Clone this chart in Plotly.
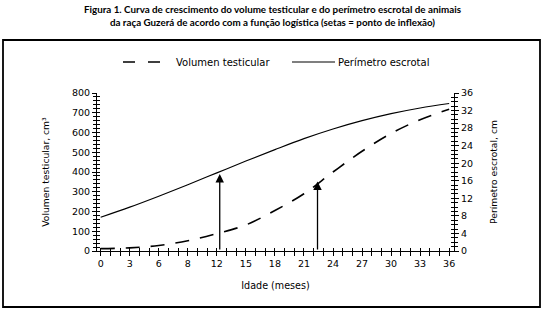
import plotly.graph_objects as go

meses = [0, 3, 6, 9, 12, 15, 18, 21, 24, 27, 30, 33, 36]
volumen = [12, 16, 28, 52, 88, 132, 205, 290, 400, 505, 595, 665, 718]
perimetro = [7.7, 10.0, 12.5, 15.1, 17.8, 20.5, 23.1, 25.6, 27.8, 29.7, 31.3, 32.6, 33.6]

x_tickvals = [0, 3, 6, 9, 12, 15, 18, 21, 24, 27, 30, 33, 36]
x_ticktext = ["0", "3", "6", "8", "12", "15", "18", "21", "24", "27", "30", "33", "36"]
inflexao_x = [12.3, 22.4]
inflexao_y = [390, 352]

series_names = ["Volumen testicular", "Perímetro escrotal"]

titulo = ("<b>Figura 1. Curva de crescimento do volume testicular e do perímetro escrotal de animais<br>"
          "da raça Guzerá de acordo com a função logística (setas = ponto de inflexão)</b>")

# plot area in pixels: left 97, right 454, top 93, bottom 251
L, R, T, B = 97, 454, 93, 251
def px(xp):
    return (xp - L) / (R - L)
def py(yp):
    return (B - yp) / (B - T)

XR = [-0.38, 36.5]
Y1R = [0, 800]
Y2R = [0, 36]

fig = go.Figure()
fig.add_trace(go.Scatter(x=meses, y=volumen, mode="lines", name=series_names[0],
                         line=dict(color="black", width=1.6, dash="14px,11px", shape="spline"),
                         yaxis="y", showlegend=False))
fig.add_trace(go.Scatter(x=meses, y=perimetro, mode="lines", name=series_names[1],
                         line=dict(color="black", width=1.1, shape="spline"),
                         yaxis="y2", showlegend=False))
# invisible helpers so the inside-tick overlay axes are drawn (crossing ticks)
fig.add_trace(go.Scatter(x=[None], y=[None], xaxis="x2", yaxis="y3", showlegend=False,
                         hoverinfo="skip"))
fig.add_trace(go.Scatter(x=[None], y=[None], xaxis="x2", yaxis="y4", showlegend=False,
                         hoverinfo="skip"))

for xa, ya in zip(inflexao_x, inflexao_y):
    fig.add_annotation(x=xa, y=ya, ax=xa, ay=0, xref="x", yref="y", axref="x", ayref="y",
                       showarrow=True, arrowhead=2, arrowsize=1.3, arrowwidth=1.3,
                       arrowcolor="black", text="")

# title
fig.add_annotation(text=titulo, xref="paper", yref="paper", x=px(272), y=py(1),
                   xanchor="center", yanchor="top", showarrow=False, align="center",
                   font=dict(family="Lato", size=9.8, color="black"))

# manual legend
fig.add_shape(type="line", xref="paper", yref="paper", x0=px(123), x1=px(160),
              y0=py(62), y1=py(62), line=dict(color="black", width=1.3, dash="12px,13px"))
fig.add_annotation(text=series_names[0], xref="paper", yref="paper", x=px(174), y=py(62),
                   xanchor="left", yanchor="middle", showarrow=False,
                   font=dict(family="DejaVu Sans", size=10, color="black"))
fig.add_shape(type="line", xref="paper", yref="paper", x0=px(292), x1=px(335),
              y0=py(62), y1=py(62), line=dict(color="black", width=1.1))
fig.add_annotation(text=series_names[1], xref="paper", yref="paper", x=px(336), y=py(62),
                   xanchor="left", yanchor="middle", showarrow=False,
                   font=dict(family="DejaVu Sans", size=10, color="black"))

tickfont = dict(family="DejaVu Sans", size=9.5, color="black")
inside = dict(showgrid=False, zeroline=False, showline=False, showticklabels=False,
              automargin=False, ticks="inside", ticklen=3, tickcolor="black")
fig.update_layout(
    width=544, height=312,
    margin=dict(l=L, r=544 - R, t=T, b=312 - B),
    paper_bgcolor="white", plot_bgcolor="white",
    font=dict(family="DejaVu Sans", size=10, color="black"),
    showlegend=False,
    xaxis=dict(range=XR, tickvals=x_tickvals, ticktext=x_ticktext, automargin=False,
               showgrid=False, zeroline=False, showline=True, linecolor="black", linewidth=1,
               ticks="outside", ticklen=4, tickcolor="black", tickfont=tickfont,
               minor=dict(dtick=1, ticks="outside", ticklen=4, tickcolor="black"),
               title=dict(text="Idade (meses)", font=dict(size=9.6), standoff=13)),
    yaxis=dict(range=Y1R, dtick=100, showgrid=False, zeroline=False, showline=True,
               automargin=False,
               linecolor="black", linewidth=1, ticks="outside", ticklen=4, tickcolor="black",
               tickfont=tickfont,
               minor=dict(dtick=20, ticks="outside", ticklen=3, tickcolor="black"),
               title=dict(text="Volumen testicular, cm³", font=dict(size=9.2), standoff=20)),
    yaxis2=dict(range=Y2R, dtick=4, overlaying="y", side="right", showgrid=False,
                automargin=False,
                zeroline=False, showline=True, linecolor="black", linewidth=1,
                ticks="outside", ticklen=4, tickcolor="black", tickfont=tickfont,
                minor=dict(dtick=1, ticks="outside", ticklen=3, tickcolor="black"),
                title=dict(text="Perímetro escrotal, cm", font=dict(size=9.2), standoff=18)),
    xaxis2=dict(range=XR, overlaying="x", anchor="y3", side="bottom", dtick=1, **inside),
    yaxis3=dict(range=Y1R, overlaying="y", anchor="x2", side="left", dtick=20, **inside),
    yaxis4=dict(range=Y2R, overlaying="y", anchor="x2", side="right", dtick=1, **inside),
)

fig.add_shape(type="rect", xref="paper", yref="paper",
              x0=px(3), x1=px(540), y0=py(307), y1=py(40),
              line=dict(color="black", width=1.8), fillcolor="rgba(0,0,0,0)", layer="below")

fig.write_html("out.html", config={"displayModeBar": False},
               post_script="document.body.style.margin='0';document.body.style.padding='0';")
